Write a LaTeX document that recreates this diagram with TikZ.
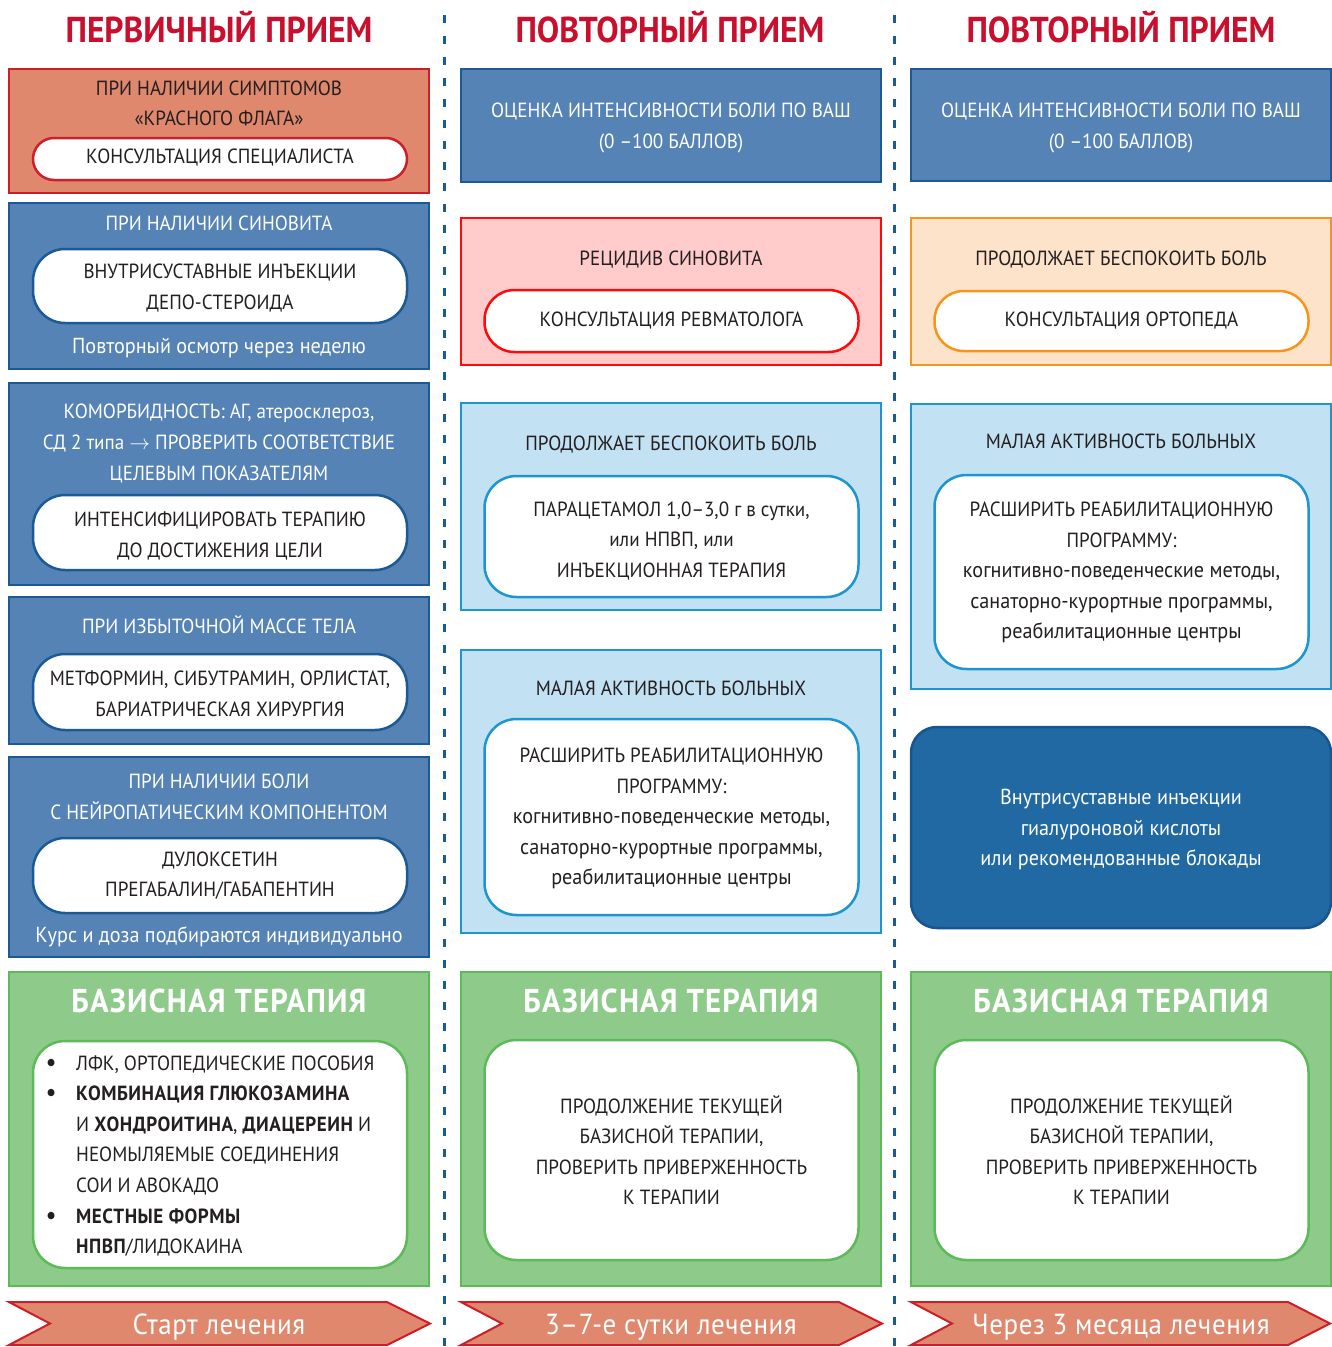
\documentclass[tikz,border=0pt]{standalone}
\usepackage{fontspec}
\setmainfont[FakeStretch=0.93]{PT Sans}
\definecolor{hdred}{HTML}{C8102E}
\definecolor{salmon}{HTML}{E0886D}
\definecolor{redB}{HTML}{CC1F27}
\definecolor{steel}{HTML}{5583B5}
\definecolor{navy}{HTML}{1B5A95}
\definecolor{pinkF}{HTML}{FFCBCB}
\definecolor{pinkB}{HTML}{FF0A0A}
\definecolor{peach}{HTML}{FDE3C9}
\definecolor{orangeB}{HTML}{F7941D}
\definecolor{skyF}{HTML}{C2E1F2}
\definecolor{skyB}{HTML}{1C95D0}
\definecolor{greenF}{HTML}{8ECB8A}
\definecolor{greenB}{HTML}{5CBA58}
\definecolor{deepblue}{HTML}{2169A3}
\definecolor{deepblueB}{HTML}{175590}
\definecolor{ink}{HTML}{231F20}
\newcommand\lcs[1]{{\fontsize{21.7}{30.6}\selectfont #1}}
\newcommand\bld[1]{{\bfseries\addfontfeature{LetterSpace=2.5}#1}}
\newcommand\bul{\makebox[30pt][l]{\fontsize{24}{24}\selectfont\bfseries •}}
\tikzset{
  box/.style={draw, line width=2.5pt, minimum width=420pt, inner sep=0pt, outer sep=0pt},
  redbox/.style={box, fill=salmon, draw=redB},
  bluebox/.style={box, fill=steel, draw=navy},
  pinkbox/.style={box, fill=pinkF, draw=pinkB},
  peachbox/.style={box, fill=peach, draw=orangeB},
  skybox/.style={box, fill=skyF, draw=skyB},
  greenbox/.style={box, fill=greenF, draw=greenB},
  darkbox/.style={box, fill=deepblue, draw=deepblueB, rounded corners=26pt},
  pill/.style={draw, fill=white, line width=2.5pt, minimum width=374pt, inner sep=0pt},
  txt/.style={align=center, inner sep=0pt, text=ink, font=\fontsize{20.5}{30.6}\selectfont},
  wtxt/.style={txt, text=white},
  head/.style={inner sep=0pt, text=hdred, font=\fontsize{36}{40}\selectfont\bfseries},
  gtitle/.style={inner sep=0pt, text=white, font=\fontsize{33}{36}\selectfont\bfseries\addfontfeature{LetterSpace=3.5}},
  banner/.style={fill=salmon, draw=redB, line width=2pt},
  btxt/.style={inner sep=0pt, text=white, font=\fontsize{29}{30}\selectfont\addfontfeature{LetterSpace=2}},
  sep/.style={draw=navy, line width=3pt, dash pattern=on 8pt off 13pt}
}
\begin{document}
\begin{tikzpicture}[x=1pt, y=-1pt]
\useasboundingbox (0,0) rectangle (1332,1347);

% separators
\coordinate (s1a) at (444,15); \coordinate (s1b) at (444,1347);
\coordinate (s2a) at (894,15); \coordinate (s2b) at (894,1347);
\draw[sep] (s1a) -- (s1b);
\draw[sep] (s2a) -- (s2b);

% headers
\node[head] (h1) at (219,27) {ПЕРВИЧНЫЙ ПРИЕМ};
\node[head] (h2) at (670,27) {ПОВТОРНЫЙ ПРИЕМ};
\node[head] (h3) at (1121,27) {ПОВТОРНЫЙ ПРИЕМ};

% ===== column 1 =====
\node[redbox, minimum height=124pt] (a1) at (219,131) {};
\node[txt] (a1t) at (219,103.5) {ПРИ НАЛИЧИИ СИМПТОМОВ\\«КРАСНОГО ФЛАГА»};
\node[pill, draw=redB, minimum height=42pt, rounded corners=21pt] (a1p) at (220,159) {};
\node[txt] (a1pt) at (220,158) {КОНСУЛЬТАЦИЯ СПЕЦИАЛИСТА};

\node[bluebox, minimum height=166pt] (a2) at (219,286) {};
\node[wtxt] (a2t) at (219,223) {ПРИ НАЛИЧИИ СИНОВИТА};
\node[pill, draw=navy, minimum height=74pt, rounded corners=32pt] (a2p) at (220,286) {};
\node[txt] (a2pt) at (220,288) {ВНУТРИСУСТАВНЫЕ ИНЪЕКЦИИ\\ДЕПО-СТЕРОИДА};
\node[wtxt] (a2n) at (219,348) {\lcs{Повторный осмотр через неделю}};

\node[bluebox, minimum height=202pt] (a3) at (219,484) {};
\node[wtxt] (a3t) at (219,443.5) {КОМОРБИДНОСТЬ: АГ, атеросклероз,\\СД 2 типа $\rightarrow$ ПРОВЕРИТЬ СООТВЕТСТВИЕ\\ЦЕЛЕВЫМ ПОКАЗАТЕЛЯМ};
\node[pill, draw=navy, minimum height=75pt, rounded corners=32pt] (a3p) at (220,532.5) {};
\node[txt] (a3pt) at (220,536) {ИНТЕНСИФИЦИРОВАТЬ ТЕРАПИЮ\\ДО ДОСТИЖЕНИЯ ЦЕЛИ};

\node[bluebox, minimum height=147pt] (a4) at (219,670.5) {};
\node[wtxt] (a4t) at (219,625) {ПРИ ИЗБЫТОЧНОЙ МАССЕ ТЕЛА};
\node[pill, draw=navy, minimum height=76pt, rounded corners=32pt] (a4p) at (220,692) {};
\node[txt] (a4pt) at (220,694) {МЕТФОРМИН, СИБУТРАМИН, ОРЛИСТАТ,\\БАРИАТРИЧЕСКАЯ ХИРУРГИЯ};

\node[bluebox, minimum height=200pt] (a5) at (219,857) {};
\node[wtxt] (a5t) at (219,797) {ПРИ НАЛИЧИИ БОЛИ\\С НЕЙРОПАТИЧЕСКИМ КОМПОНЕНТОМ};
\node[pill, draw=navy, minimum height=75pt, rounded corners=32pt] (a5p) at (220,875.5) {};
\node[txt] (a5pt) at (220,875.5) {ДУЛОКСЕТИН\\ПРЕГАБАЛИН/ГАБАПЕНТИН};
\node[wtxt] (a5n) at (219,937) {\lcs{Курс и доза подбираются индивидуально}};

\node[greenbox, minimum height=314pt] (a6) at (219,1129) {};
\node[gtitle] (a6t) at (219,1001) {БАЗИСНАЯ ТЕРАПИЯ};
\node[pill, draw=greenB, minimum height=227pt, rounded corners=32pt] (a6p) at (220,1154.5) {};
\node[txt, anchor=west, align=flush left, text width=365pt] (a6l) at (46,1156) {%
\bul ЛФК, ОРТОПЕДИЧЕСКИЕ ПОСОБИЯ\\
\bul\bld{КОМБИНАЦИЯ ГЛЮКОЗАМИНА}\\
\hspace*{30pt}И \bld{ХОНДРОИТИНА}, \bld{ДИАЦЕРЕИН} И\\
\hspace*{30pt}НЕОМЫЛЯЕМЫЕ СОЕДИНЕНИЯ\\
\hspace*{30pt}СОИ И АВОКАДО\\
\bul\bld{МЕСТНЫЕ ФОРМЫ}\\
\hspace*{30pt}\bld{НПВП}/ЛИДОКАИНА};

\draw[banner] (9,1302) -- (387,1302) -- (430,1323.5) -- (387,1345) -- (9,1345) -- (50,1323.5) -- cycle;
\node[btxt] (a7) at (219,1327) {Старт лечения};

% ===== column 2 =====
\node[bluebox, minimum height=113pt] (b1) at (671,125.5) {};
\node[wtxt] (b1t) at (671,128) {ОЦЕНКА ИНТЕНСИВНОСТИ БОЛИ ПО ВАШ\\(0 –100 БАЛЛОВ)};

\node[pinkbox, minimum height=147pt] (b2) at (671,291.5) {};
\node[txt] (b2t) at (671,260) {РЕЦИДИВ СИНОВИТА};
\node[pill, draw=pinkB, minimum height=62pt, rounded corners=30pt] (b2p) at (671.5,321) {};
\node[txt] (b2pt) at (671.5,321) {КОНСУЛЬТАЦИЯ РЕВМАТОЛОГА};

\node[skybox, minimum height=207pt] (b3) at (671,506.5) {};
\node[txt] (b3t) at (671,445) {ПРОДОЛЖАЕТ БЕСПОКОИТЬ БОЛЬ};
\node[pill, draw=skyB, minimum height=121pt, rounded corners=32pt] (b3p) at (671.5,536.5) {};
\node[txt] (b3pt) at (671.5,541) {ПАРАЦЕТАМОЛ 1,0–3,0 г в сутки,\\или НПВП, или\\ИНЪЕКЦИОННАЯ ТЕРАПИЯ};

\node[skybox, minimum height=283pt] (b4) at (671,791.5) {};
\node[txt] (b4t) at (671,688) {МАЛАЯ АКТИВНОСТЬ БОЛЬНЫХ};
\node[pill, draw=skyB, minimum height=196pt, rounded corners=32pt] (b4p) at (671.5,817) {};
\node[txt] (b4pt) at (671.5,818.5) {РАСШИРИТЬ РЕАБИЛИТАЦИОННУЮ\\ПРОГРАММУ:\\\lcs{когнитивно-поведенческие методы,}\\\lcs{санаторно-курортные программы,}\\\lcs{реабилитационные центры}};

\node[greenbox, minimum height=314pt] (b5) at (671,1129) {};
\node[gtitle] (b5t) at (671,1001) {БАЗИСНАЯ ТЕРАПИЯ};
\node[pill, draw=greenB, minimum height=220pt, rounded corners=32pt] (b5p) at (671.5,1150) {};
\node[txt] (b5pt) at (671.5,1150) {ПРОДОЛЖЕНИЕ ТЕКУЩЕЙ\\БАЗИСНОЙ ТЕРАПИИ,\\ПРОВЕРИТЬ ПРИВЕРЖЕННОСТЬ\\К ТЕРАПИИ};

\draw[banner] (461,1302) -- (839,1302) -- (882,1323.5) -- (839,1345) -- (461,1345) -- (502,1323.5) -- cycle;
\node[btxt] (b6) at (671,1327) {3–7-е сутки лечения};

% ===== column 3 =====
\node[bluebox, minimum height=112pt] (c1) at (1121,125) {};
\node[wtxt] (c1t) at (1121,128) {ОЦЕНКА ИНТЕНСИВНОСТИ БОЛИ ПО ВАШ\\(0 –100 БАЛЛОВ)};

\node[peachbox, minimum height=147pt] (c2) at (1121,291.5) {};
\node[txt] (c2t) at (1121,260) {ПРОДОЛЖАЕТ БЕСПОКОИТЬ БОЛЬ};
\node[pill, draw=orangeB, minimum height=60pt, rounded corners=29pt] (c2p) at (1121.5,321) {};
\node[txt] (c2pt) at (1121.5,321) {КОНСУЛЬТАЦИЯ ОРТОПЕДА};

\node[skybox, minimum height=285pt] (c3) at (1121,546.5) {};
\node[txt] (c3t) at (1121,441) {МАЛАЯ АКТИВНОСТЬ БОЛЬНЫХ};
\node[pill, draw=skyB, minimum height=194pt, rounded corners=32pt] (c3p) at (1121.5,572) {};
\node[txt] (c3pt) at (1121.5,572.5) {РАСШИРИТЬ РЕАБИЛИТАЦИОННУЮ\\ПРОГРАММУ:\\\lcs{когнитивно-поведенческие методы,}\\\lcs{санаторно-курортные программы,}\\\lcs{реабилитационные центры}};

\node[darkbox, minimum height=201pt] (c4) at (1121,827.5) {};
\node[wtxt] (c4t) at (1121,829.5) {\lcs{Внутрисуставные инъекции}\\\lcs{гиалуроновой кислоты}\\\lcs{или рекомендованные блокады}};

\node[greenbox, minimum height=314pt] (c5) at (1121,1129) {};
\node[gtitle] (c5t) at (1121,1001) {БАЗИСНАЯ ТЕРАПИЯ};
\node[pill, draw=greenB, minimum height=220pt, rounded corners=32pt] (c5p) at (1121.5,1150) {};
\node[txt] (c5pt) at (1121.5,1150) {ПРОДОЛЖЕНИЕ ТЕКУЩЕЙ\\БАЗИСНОЙ ТЕРАПИИ,\\ПРОВЕРИТЬ ПРИВЕРЖЕННОСТЬ\\К ТЕРАПИИ};

\draw[banner] (911,1302) -- (1288,1302) -- (1330,1323.5) -- (1288,1345) -- (911,1345) -- (952,1323.5) -- cycle;
\node[btxt] (c6) at (1121,1327) {Через 3 месяца лечения};
\end{tikzpicture}
\end{document}
